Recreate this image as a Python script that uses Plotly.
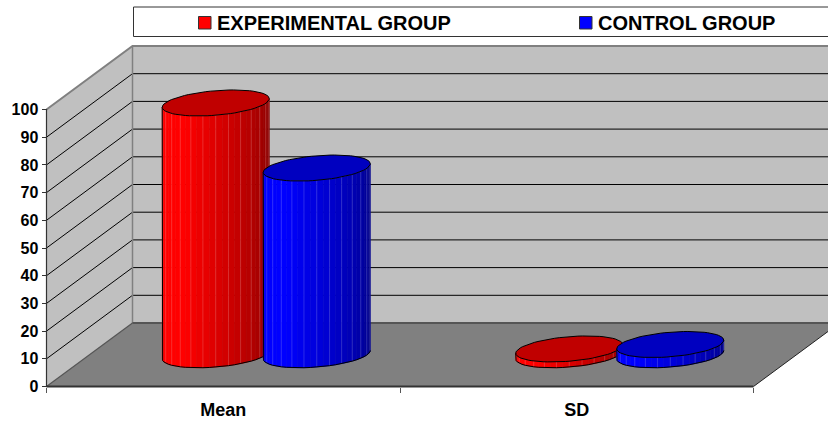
import math
import plotly.graph_objects as go

categories = ["Mean", "SD"]
experimental = [90.9, 2.1]
control = [67.4, 3.7]
y_ticks = [0, 10, 20, 30, 40, 50, 60, 70, 80, 90, 100]
group_names = ["EXPERIMENTAL GROUP", "CONTROL GROUP"]

# canvas geometry (pixels)
W, H = 828, 423
X0_PX, Y0_PX = 46.5, 386.5
CAT_PX = 353.5
VAL_PX = 2.77
DEPTH_X_PX, DEPTH_Y_PX = 86.0, 63.5
DEPTH_X = DEPTH_X_PX / CAT_PX
DEPTH_Y = DEPTH_Y_PX / VAL_PX
BAR_R = 0.1429
BAR_DEPTH_R = 0.205
N_FACETS = 26
FONT = "Liberation Sans"


def proj(u, d, v):
    return u + d * DEPTH_X, v + d * DEPTH_Y


def poly(points):
    xs, ys = zip(*[proj(*p) for p in points])
    return list(xs), list(ys)


fig = go.Figure()


def area(points, fill):
    x, y = poly(points)
    fig.add_trace(go.Scatter(x=x, y=y, mode="lines", fill="toself", fillcolor=fill,
                             line=dict(width=0), hoverinfo="skip", showlegend=False))


def line(points, color, width):
    x, y = poly(points)
    fig.add_trace(go.Scatter(x=x, y=y, mode="lines", line=dict(color=color, width=width),
                             hoverinfo="skip", showlegend=False))


n_cat = len(categories)
top = y_ticks[-1]
area([(0, 0, 0), (0, 1, 0), (0, 1, top), (0, 0, top)], "#C0C0C0")
area([(0, 1, 0), (n_cat, 1, 0), (n_cat, 1, top), (0, 1, top)], "#C0C0C0")
area([(0, 0, 0), (n_cat, 0, 0), (n_cat, 1, 0), (0, 1, 0)], "#808080")
for v in y_ticks[1:-1]:
    line([(0, 0, v), (0, 1, v), (n_cat, 1, v)], "#000000", 1)
line([(0, 0, top), (0, 1, top), (n_cat, 1, top)], "#808080", 2)
line([(0, 1, 0), (0, 1, top)], "#808080", 1.5)
line([(0, 0, 0), (0, 1, 0)], "#555555", 1.2)
line([(0, 1, 0), (n_cat, 1, 0)], "#555555", 2)
line([(n_cat, 0, 0), (n_cat, 1, 0)], "#222222", 1)
line([(0, 0, 0), (n_cat, 0, 0)], "#333333", 2)
line([(0, 0, 0), (0, 0, top)], "#333333", 1.2)


def ring(cu, v, thetas):
    return [(cu + BAR_R * math.cos(t), 0.5 + BAR_DEPTH_R * math.sin(t), v) for t in thetas]


def shade(frac, rgb_on):
    # bright on the left third, darkening to the right
    k = 1.0 if frac < 0.3 else 1.0 - 0.47 * (frac - 0.3) / 0.7
    return "rgb(%d,%d,%d)" % tuple(int(c * k) for c in rgb_on)


def cylinder(cu, v, rgb_on, top_color, seam):
    a = BAR_R * CAT_PX
    b = BAR_DEPTH_R * DEPTH_X_PX
    t0 = math.atan2(b, a)
    steps = [t0 + math.pi + math.pi * i / N_FACETS for i in range(N_FACETS + 1)]
    for i in range(N_FACETS):
        lo, hi = steps[i], steps[i + 1]
        col = shade(i / (N_FACETS - 1), rgb_on)
        pts = ring(cu, 0, [lo, hi]) + ring(cu, v, [hi, lo])
        x, y = poly(pts)
        fig.add_trace(go.Scatter(x=x + x[:1], y=y + y[:1], mode="lines", fill="toself",
                                 fillcolor=col, line=dict(color=col, width=0.6),
                                 hoverinfo="skip", showlegend=False))
    for i in range(1, N_FACETS):
        if i % 2 == 0:
            continue
        line(ring(cu, 0, [steps[i]]) + ring(cu, v, [steps[i]]), seam, 0.5)
    outline = ring(cu, v, [steps[0]]) + ring(cu, 0, steps)
    line(outline, "#000000", 1)
    thetas = [2 * math.pi * i / 72 for i in range(73)]
    x, y = poly(ring(cu, v, thetas))
    fig.add_trace(go.Scatter(x=x, y=y, mode="lines", fill="toself", fillcolor=top_color,
                             line=dict(color="#000000", width=1),
                             hoverinfo="skip", showlegend=False))


for i in range(n_cat):
    c = i + 0.5
    cylinder(c - BAR_R, experimental[i], (255, 0, 0), "#C00000", "rgba(255,190,190,0.45)")
    cylinder(c + BAR_R, control[i], (0, 0, 255), "#0000C0", "rgba(190,190,255,0.45)")

# legend box, swatches and labels
shapes = [dict(type="rect", xref="paper", yref="paper", x0=133.5 / W, x1=1.01,
               y0=1 - 36.5 / H, y1=1 - 7 / H, line=dict(color="#333333", width=1),
               fillcolor="#FFFFFF", layer="below")]
annotations = []
for name, col, sx, tx in zip(group_names, ["#FF0000", "#0000FF"], [198.5, 579.5], [215, 596]):
    shapes.append(dict(type="rect", xref="paper", yref="paper", x0=sx / W, x1=(sx + 12.5) / W,
                       y0=1 - 29 / H, y1=1 - 16.5 / H, fillcolor=col,
                       line=dict(color="#333333", width=1)))
    annotations.append(dict(xref="paper", yref="paper", x=tx / W, y=1 - 22.5 / H, text=name,
                            xanchor="left", yanchor="middle", showarrow=False,
                            font=dict(family=FONT, size=20, color="#000000", weight="bold")))

fig.update_layout(
    width=W, height=H, margin=dict(l=0, r=0, t=0, b=0, autoexpand=False),
    paper_bgcolor="#FFFFFF", plot_bgcolor="#FFFFFF",
    font=dict(family=FONT, color="#000000"),
    hovermode=False, showlegend=False,
    xaxis=dict(range=[-X0_PX / CAT_PX, (W - X0_PX) / CAT_PX], domain=[0, 1],
               anchor="free", position=(H - Y0_PX) / H, automargin=False,
               tickmode="array", tickvals=[0.5, 1.5], ticktext=categories,
               ticks="outside", ticklen=7, tickcolor="rgba(0,0,0,0)",
               tickfont=dict(family=FONT, size=18, color="#000000", weight="bold"),
               minor=dict(tickmode="array", tickvals=[0, 1, 2], ticks="outside",
                          ticklen=5, tickcolor="#555555", tickwidth=1, showgrid=False),
               showgrid=False, zeroline=False, showline=False),
    yaxis=dict(range=[(Y0_PX - H) / VAL_PX, Y0_PX / VAL_PX], domain=[0, 1],
               anchor="free", position=X0_PX / W, automargin=False,
               tickmode="array", tickvals=y_ticks, ticks="outside", ticklen=5,
               tickcolor="#333333", tickwidth=1,
               tickfont=dict(family=FONT, size=16, color="#000000", weight="bold"),
               showgrid=False, zeroline=False, showline=False),
    shapes=shapes, annotations=annotations,
)

fig.write_html("out.html", post_script="document.body.style.margin='0';",
               config={"displayModeBar": False})
